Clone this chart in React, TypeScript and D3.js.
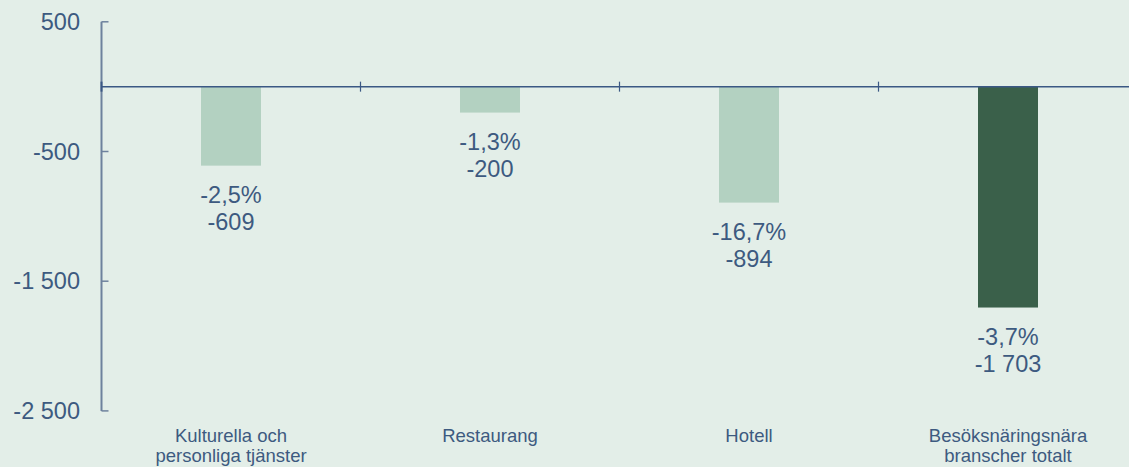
import React from "react";
import * as d3 from "d3";

const categories = [
  ["Kulturella och", "personliga tjänster"],
  ["Restaurang"],
  ["Hotell"],
  ["Besöksnäringsnära", "branscher totalt"],
];
const values = [-609, -200, -894, -1703];
const percents = ["-2,5%", "-1,3%", "-16,7%", "-3,7%"];
const valueLabels = ["-609", "-200", "-894", "-1 703"];
const yTicks = [500, -500, -1500, -2500];
const yTickLabels = ["500", "-500", "-1 500", "-2 500"];

const W = 1129;
const H = 467;
const BG = "#e3eee8";
const TEXT = "#3d5a80";
const AXIS = "#6e829d";
const ZERO = "#3b5884";
const LIGHT = "#b3d1c1";
const DARK = "#3a604a";

export default function App() {
  const x0 = 101.5;
  const band = 259;
  const y = d3.scaleLinear().domain([500, -2500]).range([21.8, 410.9]);
  const x = d3
    .scaleBand<number>()
    .domain(d3.range(4))
    .range([x0, x0 + band * 4])
    .paddingInner(0)
    .paddingOuter(0);
  const barW = 60;
  const font = "'Liberation Sans', Arial, sans-serif";
  return (
    <svg
      width={W}
      height={H}
      style={{ position: "absolute", left: 0, top: 0, background: BG }}
      fontFamily={font}
    >
      <rect x={0} y={0} width={W} height={H} fill={BG} />
      {values.map((v, i) => {
        const cx = (x(i) as number) + x.bandwidth() / 2;
        const y0 = y(0);
        const y1 = y(v);
        return (
          <g key={i}>
            <rect
              x={cx - barW / 2}
              y={y0}
              width={barW}
              height={y1 - y0}
              fill={i === 3 ? DARK : LIGHT}
            />
            <text x={cx} y={y1 + 29} textAnchor="middle" dominantBaseline="central" fontSize={23.5} fill={TEXT}>
              {percents[i]}
            </text>
            <text x={cx} y={y1 + 56} textAnchor="middle" dominantBaseline="central" fontSize={23.5} fill={TEXT}>
              {valueLabels[i]}
            </text>
            {categories[i].map((line, j) => (
              <text
                key={j}
                x={cx}
                y={435 + j * 20}
                textAnchor="middle"
                dominantBaseline="central"
                fontSize={18.5}
                fill={TEXT}
              >
                {line}
              </text>
            ))}
          </g>
        );
      })}
      {/* y axis */}
      <line x1={x0} x2={x0} y1={y(500)} y2={y(-2500)} stroke={AXIS} strokeWidth={2} />
      {yTicks.map((t, i) => (
        <g key={t}>
          <line x1={x0} x2={x0 + 7} y1={y(t)} y2={y(t)} stroke={AXIS} strokeWidth={1.5} />
          <text x={80} y={y(t)} textAnchor="end" dominantBaseline="central" fontSize={23.5} fill={TEXT}>
            {yTickLabels[i]}
          </text>
        </g>
      ))}
      {/* zero line */}
      <line x1={x0} x2={W} y1={y(0)} y2={y(0)} stroke={ZERO} strokeWidth={1.5} />
      <line x1={x0} x2={x0} y1={y(0) - 5} y2={y(0) + 5} stroke={ZERO} strokeWidth={2} />
      {d3.range(1, 4).map((i) => (
        <line
          key={i}
          x1={x(i) as number}
          x2={x(i) as number}
          y1={y(0) - 5}
          y2={y(0) + 5}
          stroke={ZERO}
          strokeWidth={1.2}
        />
      ))}
    </svg>
  );
}
